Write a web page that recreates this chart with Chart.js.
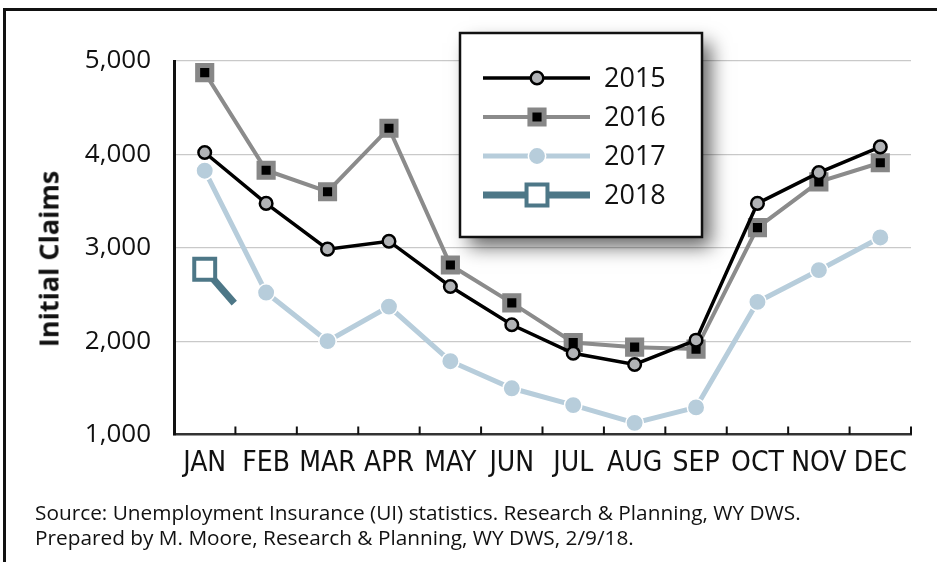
<!DOCTYPE html>
<html>
<head>
<meta charset="utf-8">
<script src="https://cdn.jsdelivr.net/npm/chart.js@4.4.1/dist/chart.umd.min.js"></script>
<style>
  html, body { margin: 0; padding: 0; background: #fff; }
  body { width: 937px; height: 562px; position: relative; overflow: hidden; font-family: "Open Sans", sans-serif; color: #111; }
  #frame { position: absolute; left: 3px; top: 8px; width: 1000px; height: 1000px; border: 3px solid #111; box-sizing: border-box; }
  #chart { position: absolute; left: 0; top: 0; }
  #yTitle { position: absolute; left: 48px; top: 259px; transform: translate(-50%, -50%) rotate(-90deg); font: bold 27px "Open Sans", sans-serif; white-space: nowrap; }
  #source { position: absolute; left: 35px; top: 500px; font-size: 20.8px; line-height: 25px; white-space: nowrap; }
</style>
</head>
<body>
<div id="frame"></div>
<canvas id="chart" width="937" height="562"></canvas>
<div id="yTitle">Initial Claims</div>
<div id="source">Source: Unemployment Insurance (UI) statistics. Research &amp; Planning, WY DWS.<br>Prepared by M. Moore, Research &amp; Planning, WY DWS, 2/9/18.</div>
<script>
// data
const months = ['JAN', 'FEB', 'MAR', 'APR', 'MAY', 'JUN', 'JUL', 'AUG', 'SEP', 'OCT', 'NOV', 'DEC'];
const claims2015 = [4020, 3475, 2985, 3070, 2585, 2175, 1870, 1750, 2010, 3475, 3805, 4080];
const claims2016 = [4875, 3830, 3600, 4280, 2815, 2410, 1985, 1935, 1915, 3215, 3705, 3910];
const claims2017 = [3825, 2520, 2000, 2370, 1785, 1495, 1315, 1125, 1290, 2420, 2760, 3110];
const claims2018 = [2770, 2015]; // only the start of the Feb segment is shown
const yTicks = [1000, 2000, 3000, 4000, 5000];

const tickFont = { family: "'Open Sans', sans-serif", size: 26 };
const monthFont = { family: "'Liberation Sans Narrow', 'DejaVu Sans Condensed', sans-serif", size: 28 };

// small tick marks pointing up from the x axis, between months
const innerTicks = {
    id: 'innerTicks',
    beforeDatasetsDraw(chart) {
        const xs = chart.scales.x;
        const bottom = chart.chartArea.bottom;
        const ctx = chart.ctx;
        ctx.save();
        ctx.strokeStyle = '#111';
        ctx.lineWidth = 2;
        ctx.beginPath();
        for (let i = 1; i <= months.length; i++) {
            let px = i < months.length
                ? (xs.getPixelForValue(i - 1) + xs.getPixelForValue(i)) / 2
                : chart.chartArea.right;
            ctx.moveTo(px, bottom);
            ctx.lineTo(px, bottom - 8);
        }
        ctx.stroke();
        ctx.restore();
    }
};

// boxed legend with drop shadow
const boxLegend = {
    id: 'boxLegend',
    afterDraw(chart) {
        const ctx = chart.ctx;
        const L = 460, T = 33, W = 242, H = 204;
        ctx.save();
        ctx.shadowColor = 'rgba(0,0,0,0.6)';
        ctx.shadowBlur = 18;
        ctx.shadowOffsetX = 9;
        ctx.shadowOffsetY = 10;
        ctx.fillStyle = '#fff';
        ctx.fillRect(L, T, W, H);
        ctx.restore();

        ctx.save();
        ctx.strokeStyle = '#111';
        ctx.lineWidth = 2.5;
        ctx.strokeRect(L, T, W, H);

        chart.data.datasets.forEach((ds, i) => {
            const y = 78 + i * 39;
            ctx.strokeStyle = ds.borderColor;
            ctx.lineWidth = ds.borderWidth;
            ctx.setLineDash([]);
            ctx.beginPath();
            ctx.moveTo(483, y);
            ctx.lineTo(590, y);
            ctx.stroke();

            const r = Array.isArray(ds.pointRadius) ? ds.pointRadius[0] : ds.pointRadius;
            ctx.fillStyle = ds.pointBackgroundColor;
            ctx.strokeStyle = ds.pointBorderColor;
            ctx.lineWidth = ds.pointBorderWidth;
            Chart.helpers.drawPoint(ctx, { pointStyle: ds.pointStyle, radius: r, borderWidth: ds.pointBorderWidth, rotation: 0 }, 537, y);

            ctx.fillStyle = '#111';
            ctx.font = "27px 'Open Sans', sans-serif";
            ctx.textBaseline = 'middle';
            ctx.fillText(ds.label, 604, y + 1);
        });
        ctx.restore();
    }
};

new Chart(document.getElementById('chart'), {
    type: 'line',
    data: {
        labels: months,
        datasets: [
            {
                label: '2015', data: claims2015,
                borderColor: '#000', borderWidth: 3.5,
                pointStyle: 'circle', pointRadius: 6.3,
                pointBackgroundColor: '#b1b3b6', pointBorderColor: '#000', pointBorderWidth: 2.5
            },
            {
                label: '2016', data: claims2016,
                borderColor: '#8b8b8b', borderWidth: 4,
                pointStyle: 'rect', pointRadius: 10,
                pointBackgroundColor: '#000', pointBorderColor: '#878787', pointBorderWidth: 5
            },
            {
                label: '2017', data: claims2017,
                borderColor: '#b7cddb', borderWidth: 5,
                pointStyle: 'circle', pointRadius: 8.7,
                pointBackgroundColor: '#b7cddb', pointBorderColor: '#fff', pointBorderWidth: 1.5
            },
            {
                label: '2018', data: claims2018,
                borderColor: '#4d7787', borderWidth: 7, borderDash: [45, 1000],
                pointStyle: 'rect', pointRadius: [14.8, 0],
                pointBackgroundColor: '#fff', pointBorderColor: '#4d7787', pointBorderWidth: 4
            }
        ]
    },
    options: {
        responsive: false,
        animation: false,
        events: [],
        layout: { padding: { left: 0, right: 26, top: 61, bottom: 0 } },
        elements: { line: { tension: 0 } },
        plugins: { legend: { display: false }, tooltip: { enabled: false } },
        scales: {
            x: {
                offset: true,
                grid: { display: false },
                border: { color: '#333', width: 2.5 },
                ticks: { font: monthFont, color: '#111', padding: 4, maxRotation: 0, autoSkip: false },
                afterFit(s) { s.height = 127.5; }
            },
            y: {
                min: 1000, max: 5000,
                afterBuildTicks(s) { s.ticks = yTicks.map(v => ({ value: v })); },
                grid: {
                    color: c => (c.tick && c.tick.value === 1000) ? 'rgba(0,0,0,0)' : '#c9c9c9',
                    lineWidth: 1.2,
                    drawTicks: false
                },
                border: { color: '#111', width: 3 },
                ticks: { font: tickFont, color: '#111', padding: 23, callback: v => v.toLocaleString('en-US') },
                afterFit(s) { s.width = 174; }
            }
        }
    },
    plugins: [innerTicks, boxLegend]
});
</script>
</body>
</html>
